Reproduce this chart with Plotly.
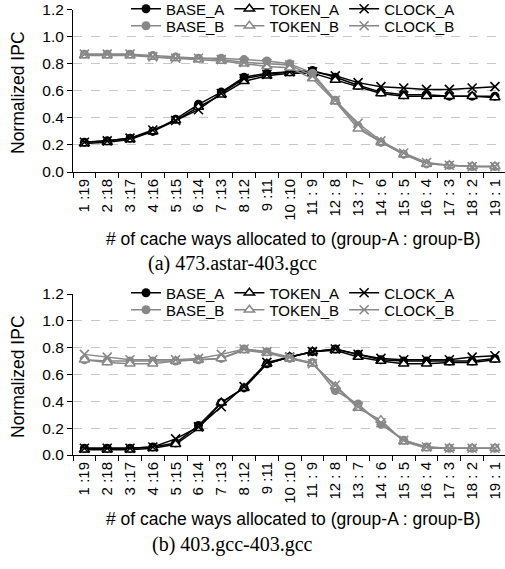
import plotly.graph_objects as go

categories = ["1 :19", "2 :18", "3 :17", "4 :16", "5 :15", "6 :14", "7 :13", "8 :12", "9 :11", "10 :10",
              "11 : 9", "12 : 8", "13 : 7", "14 : 6", "15 : 5", "16 : 4", "17 : 3", "18 : 2", "19 : 1"]

# (a) 473.astar-403.gcc
a_base_a = [0.22, 0.23, 0.25, 0.30, 0.39, 0.50, 0.59, 0.70, 0.73, 0.74, 0.75, 0.70, 0.64, 0.59, 0.57, 0.57, 0.56, 0.56, 0.56]
a_token_a = [0.21, 0.22, 0.24, 0.30, 0.38, 0.48, 0.57, 0.67, 0.71, 0.73, 0.73, 0.68, 0.63, 0.58, 0.56, 0.56, 0.56, 0.56, 0.55]
a_clock_a = [0.22, 0.23, 0.25, 0.31, 0.38, 0.46, 0.58, 0.69, 0.72, 0.74, 0.74, 0.71, 0.66, 0.63, 0.62, 0.61, 0.61, 0.62, 0.63]
a_base_b = [0.87, 0.87, 0.87, 0.86, 0.85, 0.84, 0.84, 0.83, 0.82, 0.80, 0.73, 0.53, 0.34, 0.22, 0.13, 0.06, 0.05, 0.04, 0.04]
a_token_b = [0.86, 0.86, 0.86, 0.85, 0.84, 0.83, 0.82, 0.80, 0.78, 0.77, 0.69, 0.52, 0.32, 0.22, 0.13, 0.06, 0.05, 0.04, 0.04]
a_clock_b = [0.87, 0.87, 0.87, 0.85, 0.84, 0.84, 0.83, 0.81, 0.80, 0.79, 0.71, 0.53, 0.36, 0.23, 0.14, 0.07, 0.05, 0.04, 0.04]

# (b) 403.gcc-403.gcc
b_base_a = [0.05, 0.05, 0.05, 0.06, 0.09, 0.22, 0.39, 0.50, 0.68, 0.73, 0.77, 0.79, 0.75, 0.71, 0.70, 0.70, 0.70, 0.70, 0.72]
b_token_a = [0.04, 0.04, 0.04, 0.05, 0.08, 0.20, 0.39, 0.50, 0.68, 0.73, 0.77, 0.78, 0.73, 0.70, 0.68, 0.68, 0.69, 0.69, 0.71]
b_clock_a = [0.05, 0.05, 0.05, 0.06, 0.12, 0.21, 0.36, 0.51, 0.69, 0.73, 0.77, 0.79, 0.75, 0.72, 0.71, 0.71, 0.71, 0.73, 0.74]
b_base_b = [0.71, 0.70, 0.70, 0.70, 0.70, 0.71, 0.72, 0.79, 0.77, 0.72, 0.69, 0.48, 0.38, 0.23, 0.11, 0.06, 0.05, 0.05, 0.05]
b_token_b = [0.71, 0.69, 0.68, 0.68, 0.70, 0.71, 0.72, 0.78, 0.76, 0.72, 0.68, 0.51, 0.35, 0.26, 0.10, 0.05, 0.05, 0.05, 0.05]
b_clock_b = [0.75, 0.73, 0.71, 0.71, 0.71, 0.72, 0.75, 0.79, 0.77, 0.73, 0.68, 0.52, 0.36, 0.24, 0.11, 0.06, 0.05, 0.05, 0.05]

y_ticks = [0.0, 0.2, 0.4, 0.6, 0.8, 1.0, 1.2]
x_title = "# of cache ways allocated to (group-A : group-B)"
y_title = "Normalized IPC"
captions = ["(a) 473.astar-403.gcc", "(b) 403.gcc-403.gcc"]

W, H = 505, 569
BLACK = "#000000"
GRAY = "#888888"
FONT = "Liberation Sans, Arial, sans-serif"
SERIF = "Liberation Serif, Times New Roman, serif"

def px_x(x):
    return x / W

def px_y(y):
    return 1 - y / H

fig = go.Figure()

panels = [
    dict(xa="x", ya="y", leg=("legend", "legend2"),
         data=[("BASE_A", a_base_a), ("TOKEN_A", a_token_a), ("CLOCK_A", a_clock_a),
               ("BASE_B", a_base_b), ("TOKEN_B", a_token_b), ("CLOCK_B", a_clock_b)]),
    dict(xa="x2", ya="y2", leg=("legend3", "legend4"),
         data=[("BASE_A", b_base_a), ("TOKEN_A", b_token_a), ("CLOCK_A", b_clock_a),
               ("BASE_B", b_base_b), ("TOKEN_B", b_token_b), ("CLOCK_B", b_clock_b)]),
]

for p in panels:
    for name, vals in p["data"]:
        kind, grp = name.split("_")
        color = BLACK if grp == "A" else GRAY
        if kind == "TOKEN":
            marker = dict(symbol="triangle-up", size=9, color="white", line=dict(color=color, width=1.5))
        elif kind == "CLOCK":
            marker = dict(symbol="x-thin", size=9, color=color, line=dict(color=color, width=1.6))
        else:
            marker = dict(symbol="circle", size=9, color=color, line=dict(color=color, width=0))
        fig.add_trace(go.Scatter(
            x=categories, y=vals, name=name, mode="lines+markers",
            line=dict(color=color, width=1.5), marker=marker,
            xaxis=p["xa"], yaxis=p["ya"],
            legend=p["leg"][0] if grp == "A" else p["leg"][1],
        ))

x_dom = [73 / W, 1.0]
top_dom = [px_y(172), px_y(9.5)]
bot_dom = [px_y(455), px_y(294)]

axis_common_x = dict(
    type="category", range=[-0.5, 18.44], tickson="boundaries", ticks="outside", ticklen=5,
    tickcolor=BLACK, tickwidth=1, showline=True, linecolor=BLACK, linewidth=1,
    showgrid=False, tickangle=-90, tickfont=dict(family=FONT, size=15, color=BLACK),
    zeroline=False, fixedrange=True, automargin=False,
)
axis_common_y = dict(
    range=[0, 1.2], tickvals=y_ticks, ticktext=[f"{v:.1f}" for v in y_ticks],
    ticks="outside", ticklen=5, tickcolor=BLACK, showline=True, linecolor=BLACK, linewidth=1,
    showgrid=True, gridcolor="#c8c8c8", griddash="dash", gridwidth=1, zeroline=False,
    tickfont=dict(family=FONT, size=15.5, color=BLACK), automargin=False,
)

fig.update_layout(
    xaxis=dict(domain=x_dom, anchor="y", **axis_common_x),
    yaxis=dict(domain=top_dom, anchor="x", **axis_common_y),
    xaxis2=dict(domain=x_dom, anchor="y2", **axis_common_x),
    yaxis2=dict(domain=bot_dom, anchor="x2", **axis_common_y),
)

leg_common = dict(orientation="h", font=dict(family=FONT, size=15, color=BLACK),
                  itemwidth=30, xanchor="left", yanchor="middle",
                  tracegroupgap=0, borderwidth=0, traceorder="normal")
LEG_X = 126
fig.update_layout(
    legend=dict(x=px_x(LEG_X), y=px_y(9), bgcolor="white", **leg_common),
    legend2=dict(x=px_x(LEG_X), y=px_y(26), bgcolor="rgba(0,0,0,0)", **leg_common),
    legend3=dict(x=px_x(LEG_X), y=px_y(293), bgcolor="white", **leg_common),
    legend4=dict(x=px_x(LEG_X), y=px_y(310), bgcolor="rgba(0,0,0,0)", **leg_common),
)

annotations = []
for (yc, xt_y, cap_y, cap) in [(93, 239, 263, captions[0]), (377, 519, 544, captions[1])]:
    annotations.append(dict(text=y_title, x=px_x(18), y=px_y(yc), xref="paper", yref="paper",
                            textangle=-90, showarrow=False, xanchor="center", yanchor="middle",
                            font=dict(family=FONT, size=17.5, color=BLACK)))
    annotations.append(dict(text=x_title, x=px_x(293), y=px_y(xt_y), xref="paper", yref="paper",
                            showarrow=False, xanchor="center", yanchor="middle",
                            font=dict(family=FONT, size=17.5, color=BLACK)))
    annotations.append(dict(text=cap, x=px_x(232), y=px_y(cap_y), xref="paper", yref="paper",
                            showarrow=False, xanchor="center", yanchor="middle",
                            font=dict(family=SERIF, size=20, color=BLACK)))

fig.update_layout(
    width=W, height=H, margin=dict(l=0, r=0, t=0, b=0, autoexpand=False),
    paper_bgcolor="white", plot_bgcolor="white",
    annotations=annotations, showlegend=True,
)

fig.write_html("out.html")
